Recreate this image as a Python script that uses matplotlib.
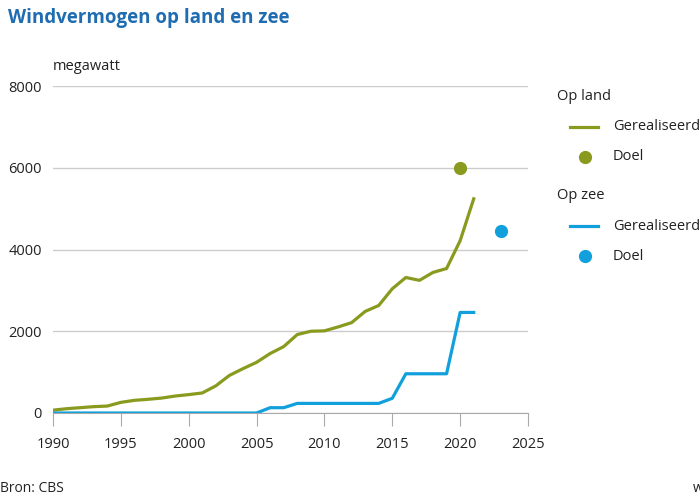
import matplotlib
matplotlib.use("Agg")
import matplotlib.pyplot as plt
from matplotlib.lines import Line2D

# data (megawatt)
years = list(range(1990, 2022))
land = [70, 105, 130, 155, 170, 260, 310, 335, 365, 415, 450, 490,
        665, 920, 1085, 1240, 1455, 1625, 1920, 2000, 2010, 2105,
        2210, 2485, 2630, 3040, 3315, 3245, 3440, 3535, 4215, 5240]
zee = [0, 0, 0, 0, 0, 0, 0, 0, 0, 0, 0, 0, 0, 0, 0, 0,
       130, 130, 235, 235, 235, 235, 235, 235, 235, 360, 960, 960,
       960, 960, 2460, 2460]
doel_land = (2020, 6000)
doel_zee = (2023, 4450)

green = "#8a9a1f"
blue = "#12a0dc"
title_blue = "#1f6cb0"

plt.rcParams['font.family'] = ['Open Sans', 'DejaVu Sans']

W, H = 700, 499
fig = plt.figure(figsize=(W / 100, H / 100), dpi=100)
ax = fig.add_axes([53 / W, 1 - 413 / H, 475 / W, 327 / H])

def fx(px):
    return px / W

def fy(py):
    return 1 - py / H

ax.plot(years, land, color=green, lw=2.3, solid_joinstyle='round', zorder=3)
ax.plot(years, zee, color=blue, lw=2.3, solid_joinstyle='round', zorder=3)
ax.plot(*doel_land, 'o', color=green, ms=8.5, zorder=4)
ax.plot(*doel_zee, 'o', color=blue, ms=8.5, zorder=4)

ax.set_xlim(1990, 2025)
ax.set_ylim(0, 8000)
ax.set_xticks(range(1990, 2026, 5))
ax.set_yticks(range(0, 8001, 2000))
ax.grid(axis='y', color='#cccccc', lw=1)
ax.set_axisbelow(True)
for s in ['top', 'right', 'left']:
    ax.spines[s].set_visible(False)
ax.spines['bottom'].set_color('#aaaaaa')
ax.tick_params(axis='x', direction='out', length=9, color='#aaaaaa',
               labelsize=10.5, pad=8, labelcolor='#222222')
ax.tick_params(axis='y', length=0, labelsize=10.5, pad=8, labelcolor='#222222')

fig.text(fx(8), fy(18), "Windvermogen op land en zee", color=title_blue,
         fontsize=13.5, fontweight='bold', va='center', ha='left')
fig.text(fx(53), fy(67), "megawatt", fontsize=10.5, color='#222222',
         va='center', ha='left')
fig.text(fx(0), fy(489), "Bron: CBS", fontsize=10, color='#222222',
         va='center', ha='left')
fig.text(fx(693), fy(489), "www.cbs.nl", fontsize=10, color='#222222',
         va='center', ha='left')

# legend
def legend_group(title, color, y0):
    fig.text(fx(557), fy(y0), title, fontsize=10.5, color='#222222',
             va='center', ha='left')
    fig.add_artist(Line2D([fx(570), fx(598)], [fy(y0 + 31)] * 2,
                          color=color, lw=2.3, transform=fig.transFigure))
    fig.text(fx(613), fy(y0 + 31), "Gerealiseerd", fontsize=10.5,
             color='#222222', va='center', ha='left')
    fig.add_artist(Line2D([fx(585)], [fy(y0 + 61)], marker='o', ms=8.5,
                          color=color, transform=fig.transFigure))
    fig.text(fx(613), fy(y0 + 61), "Doel", fontsize=10.5,
             color='#222222', va='center', ha='left')

legend_group("Op land", green, 96)
legend_group("Op zee", blue, 195)

fig.savefig("out.png", dpi=100)
